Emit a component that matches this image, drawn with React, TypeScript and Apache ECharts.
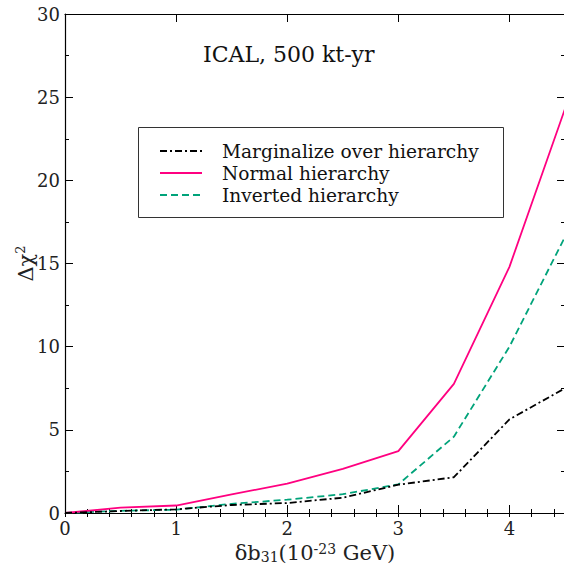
import React, { useEffect, useRef } from "react";
import * as echarts from "echarts";

const xValues = [0, 0.5, 1, 1.5, 2, 2.5, 3, 3.5, 4, 4.5];
const marginalize = [0, 0.12, 0.22, 0.48, 0.6, 0.92, 1.7, 2.15, 5.63, 7.5];
const normal = [0, 0.32, 0.45, 1.12, 1.76, 2.65, 3.72, 7.76, 14.8, 24.3];
const inverted = [0, 0.13, 0.2, 0.55, 0.8, 1.13, 1.72, 4.59, 10.0, 16.6];
const seriesNames = ["Marginalize over hierarchy", "Normal hierarchy", "Inverted hierarchy"];
const seriesColors = ["#000000", "#ff0080", "#00a37a"];
const seriesDash: any[] = [[7, 3, 2, 3], "solid", [7, 4]];
const titleText = "ICAL, 500 kt-yr";

const FONT = "DejaVu Serif";

export default function App() {
  const ref = useRef<HTMLDivElement>(null);
  useEffect(() => {
    const chart = echarts.init(ref.current!, null, { renderer: "svg" });
    const pair = (xs: number[], ys: number[]) => xs.map((x, i) => [x, ys[i]]);
    const allData = [marginalize, normal, inverted];
    const labelStyle = { fontFamily: FONT, fontSize: 18, color: "#222" };
    const baseX = {
      type: "value",
      min: 0,
      max: 4.5,
      splitLine: { show: false },
    };
    const legendRows = [151, 173, 195];
    chart.setOption({
      animation: false,
      backgroundColor: "#fff",
      grid: { left: 65, top: 14, width: 500, height: 499, containLabel: false, outerBoundsMode: "none" },
      xAxis: [
        {
          ...baseX,
          position: "bottom",
          interval: 1,
          axisLine: { show: true, onZero: false, lineStyle: { color: "#000", width: 1.2 } },
          axisTick: { show: true, inside: true, length: 8, lineStyle: { color: "#000" } },
          axisLabel: {
            ...labelStyle,
            margin: 6,
            formatter: (v: number) => (Number.isInteger(v) ? String(v) : ""),
          },
          name: "δb{sub|31}(10{sup|-23} GeV)",
          nameLocation: "middle",
          nameGap: 27,
          nameTextStyle: {
            fontFamily: FONT,
            fontSize: 21,
            color: "#222",
            rich: {
              sub: { fontFamily: FONT, fontSize: 14, verticalAlign: "bottom", padding: [8, 0, 0, 0], color: "#222" },
              sup: { fontFamily: FONT, fontSize: 14, verticalAlign: "top", padding: [0, 0, 8, 0], color: "#222" },
            },
          },
        },
        {
          ...baseX,
          position: "bottom",
          interval: 0.2,
          axisLine: { show: false },
          axisTick: { show: true, inside: true, length: 4, lineStyle: { color: "#000" } },
          axisLabel: { show: false },
        },
        {
          ...baseX,
          position: "top",
          interval: 1,
          axisLine: { show: true, onZero: false, lineStyle: { color: "#000", width: 1.2 } },
          axisTick: { show: true, inside: true, length: 8, lineStyle: { color: "#000" } },
          axisLabel: { show: false },
        },
        {
          ...baseX,
          position: "top",
          interval: 0.2,
          axisLine: { show: false },
          axisTick: { show: true, inside: true, length: 4, lineStyle: { color: "#000" } },
          axisLabel: { show: false },
        },
      ],
      yAxis: [
        {
          type: "value",
          position: "left",
          min: 0,
          max: 30,
          interval: 5,
          splitLine: { show: false },
          axisLine: { show: true, onZero: false, lineStyle: { color: "#000", width: 1.2 } },
          axisTick: { show: true, inside: true, length: 8, lineStyle: { color: "#000" } },
          minorTick: { show: true, splitNumber: 2, length: 4, lineStyle: { color: "#000" } },
          axisLabel: { ...labelStyle, margin: 5 },
          name: "Δχ{sup|2}",
          nameLocation: "middle",
          nameGap: 28,
          nameMoveOverlap: false,
          nameRotate: 90,
          nameTextStyle: {
            fontFamily: FONT,
            fontSize: 21,
            color: "#222",
            rich: {
              sup: { fontFamily: FONT, fontSize: 13, verticalAlign: "top", padding: [0, 0, 10, 0], color: "#222" },
            },
          },
        },
        {
          type: "value",
          position: "right",
          min: 0,
          max: 30,
          interval: 5,
          splitLine: { show: false },
          axisLine: { show: true, onZero: false, lineStyle: { color: "#000", width: 1.2 } },
          axisTick: { show: true, inside: true, length: 8, lineStyle: { color: "#000" } },
          minorTick: { show: true, splitNumber: 2, length: 4, lineStyle: { color: "#000" } },
          axisLabel: { show: false },
        },
      ],
      series: seriesNames.map((name, i) => ({
        name,
        type: "line",
        xAxisIndex: 0,
        yAxisIndex: 0,
        data: pair(xValues, allData[i]),
        showSymbol: false,
        symbol: "none",
        lineStyle: { color: seriesColors[i], width: 1.8, type: seriesDash[i] },
        z: 3 - i,
      })),
      graphic: [
        {
          type: "text",
          left: 298 - 95,
          top: 43,
          style: { text: titleText, fontFamily: FONT, fontSize: 22, fill: "#111" },
        },
        {
          type: "rect",
          shape: { x: 138.5, y: 127.5, width: 365, height: 90 },
          style: { fill: "#fff", stroke: "#333", lineWidth: 1 },
          z: 10,
        },
        ...seriesNames.map((name, i) => ({
          type: "line",
          shape: { x1: 160, y1: legendRows[i], x2: 202, y2: legendRows[i] },
          style: { stroke: seriesColors[i], lineWidth: 1.8, lineDash: seriesDash[i] === "solid" ? null : seriesDash[i] },
          z: 11,
        })),
        ...seriesNames.map((name, i) => ({
          type: "text",
          x: 222,
          y: legendRows[i],
          style: { text: name, fontFamily: FONT, fontSize: 18.6, fill: "#111", verticalAlign: "middle" },
          z: 11,
        })),
      ],
    });
    return () => chart.dispose();
  }, []);
  return (
    <div style={{ position: "fixed", left: 0, top: 0, width: 564, height: 565, overflow: "hidden", background: "#fff" }}>
      <div ref={ref} style={{ width: 570, height: 565 }} />
    </div>
  );
}
